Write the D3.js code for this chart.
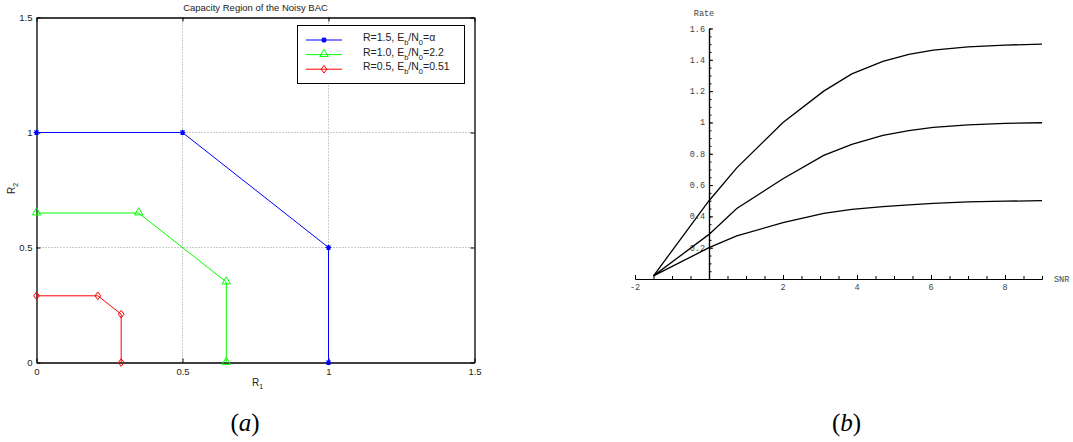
<!DOCTYPE html>
<html>
<head>
<meta charset="utf-8">
<script src="https://cdn.jsdelivr.net/npm/d3@7"></script>
<style>
  body { margin: 0; background: #fff; }
  svg { display: block; }
</style>
</head>
<body>
<svg id="chart" width="1073" height="442"></svg>
<script>
// ---- panel (a): capacity regions ----
const regionR1 = {
  blue:  [0, 0.5, 1, 1],
  green: [0, 0.35, 0.65, 0.65],
  red:   [0, 0.21, 0.29, 0.29]
};
const regionR2 = {
  blue:  [1, 1, 0.5, 0],
  green: [0.65, 0.65, 0.35, 0],
  red:   [0.29, 0.29, 0.21, 0]
};
const legendRates = ["1.5", "1.0", "0.5"];
const legendEbN0 = ["\u03b1", "2.2", "0.51"];
const ticksA = [0, 0.5, 1, 1.5];

// ---- panel (b): rate vs SNR ----
const snr = [-1.5, 0, 0.75, 2, 3.1, 3.86, 4.7, 5.4, 6.06, 7, 8, 9];
const rateHigh = [0.02, 0.5, 0.71, 1.0, 1.2, 1.31, 1.39, 1.435, 1.462, 1.482, 1.494, 1.5];
const rateMid  = [0.02, 0.285, 0.45, 0.64, 0.79, 0.86, 0.917, 0.948, 0.968, 0.984, 0.994, 0.998];
const rateLow  = [0.02, 0.2, 0.275, 0.36, 0.419, 0.445, 0.462, 0.474, 0.483, 0.492, 0.497, 0.5];
const xTicksB = [-2, 2, 4, 6, 8];
const yTicksB = [0.2, 0.4, 0.6, 0.8, 1, 1.2, 1.4, 1.6];

const svg = d3.select("#chart");

// ================= panel (a) =================
const xa = d3.scaleLinear().domain([0, 1.5]).range([36.5, 474.5]);
const ya = d3.scaleLinear().domain([0, 1.5]).range([362.5, 17.5]);
const ga = svg.append("g").attr("font-family", "Liberation Sans, Arial, sans-serif");

// grid
[0.5, 1].forEach(v => {
  ga.append("line").attr("x1", xa(v)).attr("x2", xa(v)).attr("y1", ya(0)).attr("y2", ya(1.5))
    .attr("stroke", "#999").attr("stroke-dasharray", "1,2");
  ga.append("line").attr("x1", xa(0)).attr("x2", xa(1.5)).attr("y1", ya(v)).attr("y2", ya(v))
    .attr("stroke", "#999").attr("stroke-dasharray", "1,2");
});

// axes (ticks inward, box)
const axB = ga.append("g").attr("transform", `translate(0,${ya(0)})`)
  .call(d3.axisBottom(xa).tickValues(ticksA).tickFormat(d3.format("")).tickSizeInner(-4).tickSizeOuter(0).tickPadding(6));
const axL = ga.append("g").attr("transform", `translate(${xa(0)},0)`)
  .call(d3.axisLeft(ya).tickValues(ticksA).tickFormat(d3.format("")).tickSizeInner(-4).tickSizeOuter(0).tickPadding(4));
const axT = ga.append("g").attr("transform", `translate(0,${ya(1.5)})`)
  .call(d3.axisTop(xa).tickValues(ticksA).tickFormat("").tickSizeInner(-4).tickSizeOuter(0));
const axR = ga.append("g").attr("transform", `translate(${xa(1.5)},0)`)
  .call(d3.axisRight(ya).tickValues(ticksA).tickFormat("").tickSizeInner(-4).tickSizeOuter(0));
[axB, axL, axT, axR].forEach(a => {
  a.select(".domain").attr("stroke", "#000").attr("stroke-width", 1.3);
  a.selectAll("text").attr("font-size", 9.5).attr("fill", "#222").attr("font-family", "Liberation Sans, Arial, sans-serif");
});

// title and labels
ga.append("text").attr("x", (xa(0) + xa(1.5)) / 2).attr("y", 11).attr("text-anchor", "middle")
  .attr("font-size", 9.5).attr("fill", "#222").text("Capacity Region of the Noisy BAC");
const xl = ga.append("text").attr("x", 252).attr("y", 386).attr("font-size", 10).attr("fill", "#222");
xl.append("tspan").text("R");
xl.append("tspan").attr("font-size", 7).attr("dy", 3).text("1");
const yl = ga.append("text").attr("transform", "translate(15,194) rotate(-90)").attr("font-size", 10).attr("fill", "#222");
yl.append("tspan").text("R");
yl.append("tspan").attr("font-size", 7).attr("dy", 3).text("2");

const colors = { blue: "#0000ff", green: "#00ff00", red: "#ff0000" };
const keys = ["blue", "green", "red"];

function marker(g, key, x, y) {
  const c = colors[key];
  if (key === "blue") {
    const s = 2.8;
    g.append("path").attr("d", `M${x - s},${y}H${x + s}M${x},${y - s}V${y + s}M${x - 2},${y - 2}L${x + 2},${y + 2}M${x - 2},${y + 2}L${x + 2},${y - 2}`)
      .attr("stroke", c).attr("stroke-width", 1.2).attr("fill", "none");
  } else if (key === "green") {
    g.append("path").attr("d", d3.symbol(d3.symbolTriangle, 30)())
      .attr("transform", `translate(${x},${y - 0.5})`).attr("fill", "none").attr("stroke", c).attr("stroke-width", 1);
  } else {
    const s = 3.8;
    g.append("path").attr("d", `M${x},${y - s}L${x + s * 0.75},${y}L${x},${y + s}L${x - s * 0.75},${y}Z`)
      .attr("fill", "none").attr("stroke", c).attr("stroke-width", 1);
  }
}

keys.forEach(k => {
  const pts = regionR1[k].map((v, i) => [xa(v), ya(regionR2[k][i])]);
  ga.append("path").attr("d", d3.line()(pts)).attr("fill", "none").attr("stroke", colors[k]).attr("stroke-width", 1);
  pts.forEach(p => marker(ga, k, p[0], p[1]));
});

// legend
const lg = ga.append("g");
lg.append("rect").attr("x", 297.5).attr("y", 25.5).attr("width", 167).attr("height", 58)
  .attr("fill", "#fff").attr("stroke", "#000").attr("stroke-width", 1);
keys.forEach((k, i) => {
  const yy = 40 + i * 14.6;
  lg.append("line").attr("x1", 306).attr("x2", 342).attr("y1", yy).attr("y2", yy).attr("stroke", colors[k]).attr("stroke-width", 1);
  marker(lg, k, 324, yy);
  const t = lg.append("text").attr("x", 363).attr("y", yy + 1).attr("font-size", 10.5).attr("fill", "#222");
  t.append("tspan").text(`R=${legendRates[i]}, E`);
  t.append("tspan").attr("font-size", 7.5).attr("dy", 4).text("b");
  t.append("tspan").attr("dy", -4).text("/N");
  t.append("tspan").attr("font-size", 7.5).attr("dy", 4).text("0");
  t.append("tspan").attr("dy", -4).text("=" + legendEbN0[i]);
});

// ================= panel (b) =================
const xb = d3.scaleLinear().domain([-2, 9]).range([635, 1042]);
const yb = d3.scaleLinear().domain([0, 1.6]).range([279, 28.5]);
const gb = svg.append("g").attr("font-family", "Courier New, Liberation Mono, monospace");

const xAxisB = gb.append("g").attr("transform", `translate(0,${yb(0)})`)
  .call(d3.axisTop(xb).tickValues(d3.range(-2, 9.01, 0.5)).tickFormat("").tickSizeInner(3).tickSizeOuter(0));
xAxisB.append("g").call(d3.axisTop(xb).tickValues(xTicksB).tickFormat("").tickSizeInner(4).tickSizeOuter(0));
const yAxisB = gb.append("g").attr("transform", `translate(${xb(0)},0)`)
  .call(d3.axisRight(yb).tickValues(d3.range(0.05, 1.601, 0.05)).tickFormat("").tickSizeInner(2.5).tickSizeOuter(0));
yAxisB.append("g").call(d3.axisRight(yb).tickValues(yTicksB).tickFormat("").tickSizeInner(4).tickSizeOuter(0));
[xAxisB, yAxisB].forEach(a => {
  a.selectAll(".domain").attr("stroke", "#000").attr("stroke-width", 1.2);
  a.selectAll("line").attr("stroke", "#000").attr("stroke-width", 1);
});

gb.selectAll(".xlab").data(xTicksB).enter().append("text")
  .attr("x", d => xb(d)).attr("y", yb(0) + 11).attr("text-anchor", "middle")
  .attr("font-size", 8.5).attr("fill", "#444").text(d => d < 0 ? "-" + Math.abs(d) : d);
gb.selectAll(".ylab").data(yTicksB).enter().append("text")
  .attr("x", xb(0) - 4).attr("y", d => yb(d) + 3).attr("text-anchor", "end")
  .attr("font-size", 8.5).attr("fill", "#444").text(d => d3.format("")(d));
gb.append("text").attr("x", xb(0) - 5).attr("y", 16).attr("text-anchor", "middle")
  .attr("font-size", 8.5).attr("fill", "#444").text("Rate");
gb.append("text").attr("x", 1054).attr("y", yb(0) + 3).attr("font-size", 8.5).attr("fill", "#444").text("SNR");

const lineB = d3.line().x((d, i) => xb(snr[i])).y(d => yb(d));
[rateHigh, rateMid, rateLow].forEach(s => {
  gb.append("path").attr("d", lineB(s)).attr("fill", "none").attr("stroke", "#000").attr("stroke-width", 1.3);
});

// captions
const cap = svg.append("g").attr("font-family", "Liberation Serif, Times New Roman, serif").attr("font-size", 25).attr("fill", "#000");
[["a", 245], ["b", 846.5]].forEach(([c, x]) => {
  const t = cap.append("text").attr("x", x).attr("y", 431).attr("text-anchor", "middle");
  t.append("tspan").text("(");
  t.append("tspan").attr("font-style", "italic").text(c);
  t.append("tspan").text(")");
});
</script>
</body>
</html>
